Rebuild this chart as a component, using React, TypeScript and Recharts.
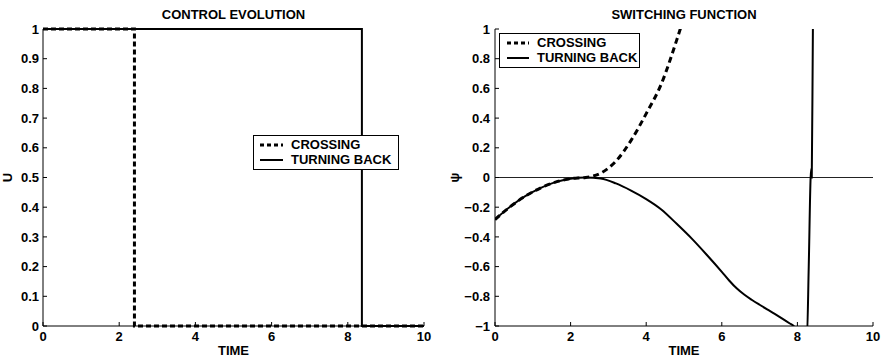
import { LineChart, Line, XAxis, YAxis, ReferenceLine, Legend, Label } from 'recharts';

const FONT = '"Liberation Sans", Arial, Helvetica, sans-serif';

const TIME_TICKS = [0, 2, 4, 6, 8, 10];
const U_TICKS = [0, 0.1, 0.2, 0.3, 0.4, 0.5, 0.6, 0.7, 0.8, 0.9, 1];
const PSI_TICKS = [-1, -0.8, -0.6, -0.4, -0.2, 0, 0.2, 0.4, 0.6, 0.8, 1];

// control evolution
const CROSS_U_TIME = [0, 2.4, 2.4, 10];
const CROSS_U = [1, 1, 0, 0];
const TURN_U_TIME = [0, 8.37, 8.37, 10];
const TURN_U = [1, 1, 0, 0];

// switching function
const CROSS_PSI_TIME = [0, 0.4, 0.8, 1.2, 1.6, 2.0, 2.4, 2.8, 3.2, 3.6, 4.0, 4.4, 4.8, 5.0];
const CROSS_PSI = [-0.283, -0.197, -0.126, -0.071, -0.031, -0.008, 0, 0.03, 0.11, 0.25, 0.43, 0.63, 0.92, 1.08];
const TURN_PSI_TIME = [
  0, 0.4, 0.8, 1.2, 1.6, 2.0, 2.4, 2.8, 3.2, 3.6, 4.0, 4.4, 4.8, 5.2, 5.6, 6.0, 6.2, 6.4, 6.6, 6.8, 7.0, 7.2, 7.4, 7.6, 7.8,
  7.9, 8.1, 8.25, 8.3, 8.35, 8.37, 8.38, 8.41, 8.45,
];
const TURN_PSI = [
  -0.283, -0.197, -0.126, -0.071, -0.031, -0.008, 0, -0.007, -0.04, -0.088, -0.145, -0.215, -0.31, -0.41, -0.52, -0.635,
  -0.695, -0.748, -0.79, -0.825, -0.857, -0.888, -0.918, -0.95, -0.983, -1.0, -1.1, -1.1, -0.6, 0.0, 0.06, 0.0, 1.0, 1.4,
];

const LEGEND_NAMES = ['CROSSING', 'TURNING BACK'];

const toPoints = (ts: number[], vs: number[]) => ts.map((t, i) => ({ t, v: vs[i] }));

const fmt = (v: number) => String(v).replace('-', '\u2212');

const tickStyle = { fontSize: 13, fill: '#000', fontFamily: FONT, fontWeight: 'bold' as const };

function LegendBox({ padLeft, sample, gap, width }: { padLeft: number; sample: number; gap: number; width: number }) {
  return (
    <div
      style={{
        border: '1px solid #000',
        background: '#fff',
        boxSizing: 'border-box',
        width,
        height: 35,
        padding: `1px 0 0 ${padLeft}px`,
        fontFamily: FONT,
        fontSize: 13,
        fontWeight: 'bold',
        color: '#000',
      }}
    >
      {LEGEND_NAMES.map((name, i) => (
        <div key={name} style={{ display: 'flex', alignItems: 'center', height: 15, lineHeight: '15px' }}>
          <svg width={sample} height={6} style={{ marginRight: gap }}>
            <line
              x1={0}
              y1={3}
              x2={sample}
              y2={3}
              stroke="#000"
              strokeWidth={i === 0 ? 3 : 2}
              strokeDasharray={i === 0 ? '4 3' : undefined}
            />
          </svg>
          <span>{name}</span>
        </div>
      ))}
    </div>
  );
}

function Title({ text, left, width }: { text: string; left: number; width: number }) {
  return (
    <div
      style={{
        position: 'absolute',
        left,
        top: 7,
        width,
        textAlign: 'center',
        fontFamily: FONT,
        fontSize: 13,
        fontWeight: 'bold',
        lineHeight: '15px',
      }}
    >
      {text}
    </div>
  );
}

const axisLabel = (text: string, x: number) => () => (
  <text
    x={x}
    y={177.5}
    transform={`rotate(-90 ${x} 177.5)`}
    textAnchor="middle"
    dominantBaseline="central"
    fontSize={13}
    fontWeight="bold"
    fontFamily={FONT}
    fill="#000"
  >
    {text}
  </text>
);

export default function App() {
  return (
    <div style={{ position: 'absolute', left: 0, top: 0, width: 882, height: 359, background: '#fff' }}>
      <div style={{ position: 'absolute', left: 0, top: 0 }}>
        <LineChart width={441} height={359} margin={{ top: 29, right: 17, bottom: 0, left: 0 }}>
          <XAxis
            dataKey="t"
            type="number"
            domain={[0, 10]}
            ticks={TIME_TICKS}
            height={33}
            tick={tickStyle}
            tickSize={-4}
            tickMargin={10}
            stroke="#000"
            allowDuplicatedCategory={false}
          >
            <Label value="TIME" position="insideBottom" offset={4} fontSize={13} fontWeight="bold" fontFamily={FONT} fill="#000" />
          </XAxis>
          <YAxis
            type="number"
            domain={[0, 1]}
            ticks={U_TICKS}
            width={43}
            tick={tickStyle}
            tickSize={-4}
            tickMargin={8}
            stroke="#000"
            tickFormatter={fmt}
          >
            <Label content={axisLabel('U', 7)} />
          </YAxis>
          <Legend
            layout="horizontal"
            verticalAlign="middle"
            align="center"
            content={() => <LegendBox padLeft={6} sample={23} gap={8} width={146} />}
            wrapperStyle={{ left: 253, top: 135, width: 146, height: 35 }}
          />
          <Line
            data={toPoints(TURN_U_TIME, TURN_U)}
            dataKey="v"
            name="TURNING BACK"
            type="linear"
            stroke="#000"
            strokeWidth={2}
            dot={false}
            isAnimationActive={false}
          />
          <Line
            data={toPoints(CROSS_U_TIME, CROSS_U)}
            dataKey="v"
            name="CROSSING"
            type="linear"
            stroke="#000"
            strokeWidth={3}
            strokeDasharray="5 3"
            dot={false}
            isAnimationActive={false}
          />
        </LineChart>
        <Title text="CONTROL EVOLUTION" left={43} width={381} />
      </div>

      <div style={{ position: 'absolute', left: 441, top: 0 }}>
        <LineChart width={441} height={359} margin={{ top: 29, right: 9, bottom: 0, left: 0 }}>
          <XAxis
            dataKey="t"
            type="number"
            domain={[0, 10]}
            ticks={TIME_TICKS}
            height={33}
            tick={tickStyle}
            tickSize={-4}
            tickMargin={10}
            stroke="#000"
            allowDataOverflow
          >
            <Label value="TIME" position="insideBottom" offset={4} fontSize={13} fontWeight="bold" fontFamily={FONT} fill="#000" />
          </XAxis>
          <YAxis
            type="number"
            domain={[-1, 1]}
            ticks={PSI_TICKS}
            width={54}
            tick={tickStyle}
            tickSize={-4}
            tickMargin={9}
            stroke="#000"
            tickFormatter={fmt}
            allowDataOverflow
          >
            <Label content={axisLabel('\u03C8', 13)} />
          </YAxis>
          <ReferenceLine y={0} stroke="#222" strokeWidth={1} />
          <Legend
            layout="horizontal"
            verticalAlign="middle"
            align="center"
            content={() => <LegendBox padLeft={7} sample={22} gap={8} width={141} />}
            wrapperStyle={{ left: 58, top: 33, width: 141, height: 35 }}
          />
          <Line
            data={toPoints(TURN_PSI_TIME, TURN_PSI)}
            dataKey="v"
            name="TURNING BACK"
            type="monotoneX"
            stroke="#000"
            strokeWidth={2}
            dot={false}
            isAnimationActive={false}
          />
          <Line
            data={toPoints(CROSS_PSI_TIME, CROSS_PSI)}
            dataKey="v"
            name="CROSSING"
            type="monotoneX"
            stroke="#000"
            strokeWidth={3}
            strokeDasharray="6 4"
            dot={false}
            isAnimationActive={false}
          />
        </LineChart>
        <Title text="SWITCHING FUNCTION" left={54} width={378} />
      </div>
    </div>
  );
}
